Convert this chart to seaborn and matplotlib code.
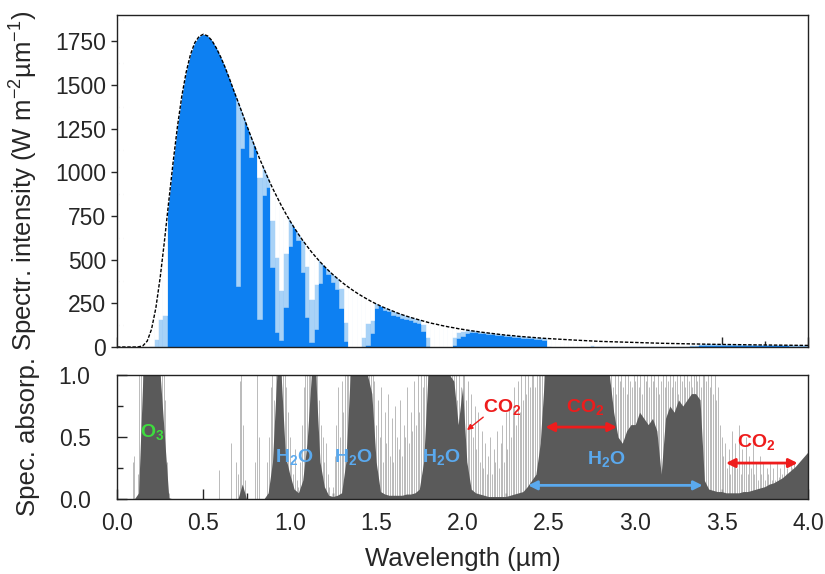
import numpy as np
import pandas as pd
import matplotlib
matplotlib.use("Agg")
import matplotlib.pyplot as plt
import seaborn as sns

# ---------------- data ----------------
# common wavelength grid, 0.025 um step, 0..4 um
wavelength_um = np.round(np.arange(161) * 0.025, 3)

# black-body reference curve (dashed), W m-2 um-1
blackbody = [
    0, 0, 0, 0, 0, 1, 7, 34,
    102, 224, 398, 609, 837, 1059, 1262, 1435,
    1571, 1673, 1741, 1777, 1790, 1780, 1753, 1711,
    1660, 1602, 1538, 1470, 1405, 1338, 1270, 1205,
    1141, 1079, 1021, 964, 910, 861, 812, 767,
    724, 684, 646, 610, 577, 545, 516, 488,
    462, 437, 414, 393, 372, 353, 335, 318,
    302, 287, 273, 259, 247, 235, 224, 214,
    204, 194, 185, 177, 169, 162, 155, 148,
    141, 135, 130, 124, 119, 114, 110, 105,
    101, 97, 93, 90, 86, 83, 80, 77,
    74, 71, 68, 66, 64, 61, 59, 57,
    55, 53, 51, 49.5, 48, 46.5, 45, 43.5,
    42, 40.7, 39.5, 38.2, 37, 35.7, 34.5, 33.2,
    32, 31.2, 30.4, 29.7, 29, 28, 27, 26,
    25.4, 24.7, 24, 23.3, 22.6, 22, 21.4, 20.8,
    20.2, 19.7, 19.1, 18.6, 18.1, 17.6, 17.2, 16.7,
    16.3, 15.9, 15.4, 15.0, 14.6, 14.3, 13.9, 13.6,
    13.2, 12.9, 12.6, 12.3, 12.0, 11.7, 11.5, 11.2,
    10.9, 10.7, 10.4, 10.2, 9.9, 9.7, 9.4, 9.2,
    9.0,
]

# fraction of the black-body curve reached by the solid blue fill
transmittance_solid = [
    0, 0, 0, 0, 0, 0, 0, 0,
    0, 0, 0, 0, 1, 1, 1, 1,
    1, 1, 1, 1, 1, 1, 1, 1,
    1, 1, 1, 1, 0.25, 0.85, 1, 0.9,
    1, 0.15, 0.85, 0.95, 0.5, 0.1, 0.05, 0.3,
    0.8, 1, 0.95, 0.7, 0.3, 0.05, 0.2, 0.75,
    1, 0.95, 0.9, 0.85, 0.6, 0.1, 0, 0,
    0, 0, 0.05, 0.3, 0.9, 1, 0.95, 0.95,
    0.9, 0.9, 0.9, 0.9, 0.9, 0.9, 0.9, 0.6,
    0.05, 0, 0, 0, 0, 0, 0.1, 0.5,
    0.6, 0.85, 0.9, 0.95, 0.95, 0.95, 0.95, 0.95,
    0.95, 0.95, 0.95, 0.95, 0.9, 0.9, 0.9, 0.9,
    0.9, 0.9, 0.9, 0.8, 0, 0, 0, 0,
    0, 0, 0, 0, 0, 0, 0, 0,
    0, 0, 0, 0, 0, 0, 0, 0,
    0, 0, 0, 0, 0, 0, 0, 0,
    0, 0, 0, 0, 0, 0.2, 0.4, 0.6,
    0.85, 0.85, 0.85, 0.85, 0.85, 0.85, 0.85, 0.85,
    0.85, 0.85, 0.85, 0.85, 0.85, 0.85, 0.85, 0.85,
    0.85, 0.85, 0.85, 0.85, 0.85, 0.85, 0.85, 0.85,
    0.85,
]

# fraction reached by the pale-blue (partly absorbed) lines
transmittance_lines = [
    0, 0, 0, 0, 0, 0, 0, 0,
    0.05, 0.2, 0.4, 0.3, 1, 1, 1, 1,
    1, 1, 1, 1, 1, 1, 1, 1,
    1, 1, 1, 1, 1, 1, 1, 1,
    1, 0.9, 1, 1, 0.8, 0.6, 0.4, 0.7,
    1, 1, 1, 1, 0.8, 0.5, 0.7, 1,
    1, 1, 1, 1, 0.9, 0.4, 0, 0,
    0, 0.2, 0.5, 0.6, 1, 1, 1, 1,
    1, 1, 1, 1, 1, 1, 1, 0.9,
    0.4, 0, 0, 0, 0, 0, 0.5, 0.8,
    0.9, 1, 1, 1, 1, 1, 1, 1,
    1, 1, 1, 1, 1, 1, 1, 1,
    1, 1, 1, 1, 0.1, 0.05, 0.05, 0.05,
    0.05, 0.05, 0.05, 0.05, 0.05, 0.05, 0.25, 0.25,
    0.25, 0.25, 0.25, 0.25, 0.25, 0.25, 0.25, 0.25,
    0.25, 0.25, 0.25, 0.25, 0.25, 0.25, 0.25, 0.25,
    0.25, 0.25, 0.25, 0.25, 0.25, 0.5, 0.7, 0.9,
    1, 1, 1, 1, 1, 1, 1, 1,
    1, 1, 1, 1, 1, 1, 1, 1,
    1, 1, 1, 1, 1, 1, 1, 1,
    1,
]

# dark-grey band absorption (bottom panel)
absorption_band = [
    0, 0, 0, 0, 0, 0.05, 1.0, 1.0,
    1.0, 1.0, 1.0, 0.5, 0.01, 0, 0, 0,
    0, 0, 0, 0, 0, 0, 0, 0,
    0, 0, 0, 0, 0, 0.12, 0, 0,
    0, 0, 0, 0.05, 0.3, 1.0, 1.0, 0.35,
    0.2, 0.08, 0.05, 0.15, 0.45, 1.0, 1.0, 0.3,
    0.1, 0.03, 0.02, 0.03, 0.05, 0.3, 1.0, 1.0,
    1.0, 1.0, 1.0, 0.85, 0.3, 0.06, 0.04, 0.03,
    0.03, 0.03, 0.03, 0.04, 0.04, 0.05, 0.08, 0.3,
    1.0, 1.0, 1.0, 1.0, 1.0, 1.0, 0.95, 0.6,
    0.9, 0.3, 0.08, 0.05, 0.04, 0.03, 0.02, 0.02,
    0.02, 0.02, 0.02, 0.03, 0.04, 0.05, 0.06, 0.1,
    0.15, 0.2, 0.45, 1.0, 1.0, 1.0, 1.0, 1.0,
    1.0, 1.0, 1.0, 1.0, 1.0, 1.0, 1.0, 1.0,
    1.0, 1.0, 1.0, 0.7, 0.5, 0.45, 0.55, 0.6,
    0.6, 0.7, 0.65, 0.6, 0.65, 0.55, 0.2, 0.65,
    0.75, 0.7, 0.8, 0.75, 0.8, 0.85, 0.85, 0.8,
    0.15, 0.08, 0.07, 0.06, 0.06, 0.05, 0.05, 0.05,
    0.05, 0.06, 0.06, 0.07, 0.08, 0.09, 0.1, 0.12,
    0.13, 0.15, 0.17, 0.2, 0.23, 0.26, 0.3, 0.34,
    0.38,
]

# light-grey absorption lines, 0.01 um step, 0..4 um
line_wavelength_um = np.round(np.arange(401) * 0.01, 2)
line_absorption = [
    0, 0, 0, 0, 0, 0, 0, 0, 0, 0.3,
    0.35, 0, 0.2, 1.0, 1.0, 1.0, 1.0, 1.0, 1.0, 1.0,
    1.0, 1.0, 1.0, 1.0, 1.0, 1.0, 1.0, 1.0, 0.8, 0.3,
    0.05, 0, 0, 0, 0, 0, 0, 0, 0, 0,
    0, 0, 0, 0, 0, 0, 0, 0, 0, 0,
    0, 0, 0, 0, 0, 0, 0, 0, 0, 0.23,
    0, 0, 0, 0, 0, 0, 0.45, 0, 0, 0.3,
    0.2, 0.95, 1.0, 0.6, 0.15, 0, 0, 0, 0, 0,
    0.3, 1.0, 0.5, 0, 0, 0, 0, 0.3, 0.5, 0.9,
    1.0, 0.8, 1.0, 1.0, 1.0, 1.0, 1.0, 1.0, 0.9, 0.7,
    0.5, 0.3, 0.2, 0.4, 0.15, 0.1, 0.3, 0.6, 0.9, 1.0,
    1.0, 1.0, 1.0, 1.0, 1.0, 1.0, 1.0, 0.8, 0.6, 0.5,
    0.3, 0.45, 0.2, 0.1, 0, 0.1, 0.35, 0.6, 0.9, 0.5,
    0.95, 0.7, 1.0, 1.0, 1.0, 1.0, 1.0, 1.0, 1.0, 1.0,
    1.0, 1.0, 1.0, 1.0, 1.0, 1.0, 1.0, 1.0, 1.0, 0.95,
    0.6, 0.8, 0.5, 0.9, 0.3, 0.7, 0.45, 0.85, 0.35, 0.65,
    0.3, 0.75, 0.5, 0.4, 0.8, 0.35, 0.6, 0.5, 0.9, 0.45,
    0.7, 0.55, 0.95, 0.6, 1.0, 0.7, 1.0, 0.9, 1.0, 1.0,
    1.0, 1.0, 1.0, 1.0, 1.0, 1.0, 1.0, 1.0, 1.0, 1.0,
    1.0, 1.0, 1.0, 1.0, 1.0, 1.0, 1.0, 0.8, 1.0, 0.9,
    1.0, 1.0, 0.8, 0.95, 0.6, 0.85, 0.5, 0.75, 0.4, 0.7,
    0.3, 0.55, 0.25, 0.45, 0.2, 0.35, 0.5, 0.2, 0.4, 0.3,
    0.55, 0.25, 0.45, 0.6, 0.3, 0.7, 0.4, 0.8, 0.5, 0.75,
    0.9, 0.6, 0.95, 0.7, 1.0, 0.8, 1.0, 0.85, 1.0, 0.9,
    1.0, 1.0, 0.9, 1.0, 1.0, 1.0, 1.0, 1.0, 1.0, 1.0,
    1.0, 1.0, 1.0, 1.0, 1.0, 1.0, 1.0, 1.0, 1.0, 1.0,
    1.0, 1.0, 1.0, 1.0, 1.0, 1.0, 1.0, 1.0, 1.0, 1.0,
    1.0, 1.0, 1.0, 1.0, 1.0, 1.0, 1.0, 1.0, 1.0, 1.0,
    1.0, 1.0, 1.0, 1.0, 1.0, 1.0, 1.0, 0.9, 1.0, 0.85,
    1.0, 0.95, 1.0, 0.9, 1.0, 0.85, 1.0, 0.95, 0.9, 1.0,
    0.95, 1.0, 0.9, 1.0, 0.85, 1.0, 0.95, 1.0, 0.9, 1.0,
    0.95, 1.0, 0.9, 1.0, 0.85, 0.95, 1.0, 0.9, 1.0, 0.95,
    1.0, 0.9, 1.0, 0.95, 1.0, 0.85, 1.0, 0.95, 1.0, 0.9,
    1.0, 0.95, 1.0, 0.9, 1.0, 1.0, 0.95, 1.0, 0.9, 1.0,
    1.0, 0.95, 1.0, 0.9, 1.0, 0.85, 1.0, 0.8, 0.9, 0.6,
    0.5, 0.35, 0.45, 0.25, 0.4, 0.2, 0.55, 0.3, 0.45, 0.25,
    0.6, 0.2, 0.4, 0.3, 0.5, 0.2, 0.35, 0.25, 0.45, 0.2,
    0.3, 0.15, 0.35, 0.2, 0.3, 0.15, 0.25, 0.2, 0.3, 0.15,
    0.25, 0.15, 0.3, 0.18, 0.25, 0.2, 0.28, 0.2, 0.25, 0.22,
    0.3, 0.25, 0.3, 0, 0, 0, 0, 0, 0, 0,
    0,
]

# annotation labels
h2o_labels = [(1.025, 0.34), (1.37, 0.34), (1.875, 0.34), (2.835, 0.32)]
co2_labels = [(2.23, 0.74), (2.71, 0.74), (3.70, 0.46)]

# ---------------- style ----------------
sns.set_theme(style="ticks")
plt.rcParams["font.family"] = ["Liberation Sans", "DejaVu Sans"]
plt.rcParams["mathtext.fontset"] = "custom"
plt.rcParams["mathtext.rm"] = "Liberation Sans"
plt.rcParams["mathtext.it"] = "Liberation Sans:italic"
plt.rcParams["mathtext.bf"] = "Liberation Sans:bold"

BLUE = "#0d80f2"
LIGHT_BLUE = "#a8d2f7"
DARK_GREY = "#5a5a5a"
LINE_GREY = "#b0b0b0"
RED = "#ee1c1c"
TXT_BLUE = "#5aa9ee"
GREEN = "#3edc3e"

df = pd.DataFrame({
    "wavelength": wavelength_um,
    "blackbody": blackbody,
    "t_solid": transmittance_solid,
    "t_lines": transmittance_lines,
    "band": absorption_band,
})
df["solid"] = df["blackbody"] * df["t_solid"]
df["pale"] = df["blackbody"] * df["t_lines"]
BIN = 0.025
YTOP = 1900

fig = plt.figure(figsize=(8.25, 5.74), dpi=100)
W, H = 825, 574
ax1 = fig.add_axes([117 / W, 1 - 347 / H, 691 / W, 332 / H])
ax2 = fig.add_axes([117 / W, 1 - 499 / H, 691 / W, 124 / H])

# ---------------- top panel ----------------
base = ax1.fill_between(df["wavelength"], 0, df["blackbody"], color=BLUE,
                        lw=0, zorder=1)
# partly absorbed (pale) part
pale = df[df["t_solid"] < 1]
bars = ax1.bar(pale["wavelength"], YTOP - pale["solid"], bottom=pale["solid"],
               width=BIN, color=LIGHT_BLUE, edgecolor=LIGHT_BLUE, lw=0.4,
               zorder=1.1)
clip_path = base.get_paths()[0]
for b in bars:
    b.set_clip_path(clip_path, ax1.transData)
# fully absorbed (white) part
gone = df[df["t_lines"] < 1]
ax1.bar(gone["wavelength"], YTOP - gone["pale"], bottom=gone["pale"],
        width=BIN, color="white", edgecolor="white", lw=0.4, zorder=1.2)
sns.lineplot(data=df, x="wavelength", y="blackbody", ax=ax1, color="black",
             lw=1.0, linestyle=(0, (2.5, 1.2)), legend=False, zorder=3)
ax1.set_xlim(0, 4)
ax1.set_ylim(0, YTOP)
ax1.set_yticks(np.arange(0, 1751, 250))
ax1.set_yticks(np.arange(125, 1900, 250), minor=True)
ax1.set_xticks(np.arange(0, 4.01, 0.5))
ax1.set_xticks(np.arange(0.25, 4, 0.5), minor=True)
ax1.tick_params(axis="x", which="both", direction="in", labelbottom=False)
ax1.tick_params(axis="x", which="major", length=7, width=1)
ax1.tick_params(axis="x", which="minor", length=4, width=1)
ax1.tick_params(axis="y", which="major", direction="out", length=4, width=1,
                labelsize=16.5, pad=4)
ax1.tick_params(axis="y", which="minor", direction="in", length=4, width=1)
ax1.set_xlabel("")
ax1.set_ylabel("Spectr. intensity (W m$^{-2}$µm$^{-1}$)", fontsize=18.5)
ax1.yaxis.set_label_coords(-0.112, 0.5)

# ---------------- bottom panel ----------------
ax2.vlines(line_wavelength_um, 0, line_absorption, color=LINE_GREY, lw=0.6,
           zorder=1)
ax2.fill_between(df["wavelength"], 0, df["band"], color=DARK_GREY, lw=0,
                 zorder=1.5)
ax2.set_xlim(0, 4)
ax2.set_ylim(0, 1.0)
ax2.set_yticks([0.0, 0.5, 1.0])
ax2.set_yticks([0.25, 0.75], minor=True)
ax2.set_yticklabels(["0.0", "0.5", "1.0"])
ax2.set_xticks(np.arange(0, 4.01, 0.5))
ax2.set_xticks(np.arange(0.25, 4, 0.5), minor=True)
ax2.set_xticklabels([f"{v:.1f}" for v in np.arange(0, 4.01, 0.5)])
ax2.tick_params(axis="both", which="both", direction="in", width=1)
ax2.tick_params(axis="both", which="major", length=7)
ax2.tick_params(axis="both", which="minor", length=4)
ax2.tick_params(axis="x", which="major", labelsize=16.5, pad=9)
ax2.tick_params(axis="y", which="major", labelsize=16.5, pad=19)
ax2.set_xlabel("Wavelength (µm)", fontsize=18.5)
ax2.xaxis.set_label_coords(0.5, -0.39)
ax2.xaxis.label.set_va("top")
ax2.set_ylabel("Spec. absorp.", fontsize=18.5)
ax2.yaxis.set_label_coords(-0.112, 0.5)

for ax in (ax1, ax2):
    for s in ax.spines.values():
        s.set_visible(True)
        s.set_linewidth(1.0)
        s.set_color("#222222")
        s.set_zorder(4)

# annotations
ax2.text(0.135, 0.54, r"$\mathbf{O_3}$", color=GREEN, fontsize=14,
         ha="left", va="center", zorder=5)
for x, y in h2o_labels:
    ax2.text(x, y, r"$\mathbf{H_2O}$", color=TXT_BLUE, fontsize=14,
             ha="center", va="center", zorder=5)
for x, y in co2_labels:
    ax2.text(x, y, r"$\mathbf{CO_2}$", color=RED, fontsize=14,
             ha="center", va="center", zorder=5)

arrow_kw = dict(shrinkA=0, shrinkB=0)
ax2.annotate("", xy=(2.026, 0.556), xytext=(2.12, 0.66), zorder=5,
             arrowprops=dict(arrowstyle="-|>", color=RED, lw=1.0,
                             mutation_scale=8, **arrow_kw))
ax2.annotate("", xy=(2.48, 0.58), xytext=(2.894, 0.58), zorder=5,
             arrowprops=dict(arrowstyle="<|-|>", color=RED, lw=2.0,
                             mutation_scale=13, **arrow_kw))
ax2.annotate("", xy=(3.525, 0.29), xytext=(3.94, 0.29), zorder=5,
             arrowprops=dict(arrowstyle="<|-|>", color=RED, lw=2.0,
                             mutation_scale=13, **arrow_kw))
ax2.annotate("", xy=(2.38, 0.11), xytext=(3.39, 0.11), zorder=5,
             arrowprops=dict(arrowstyle="<|-|>", color=TXT_BLUE, lw=2.0,
                             mutation_scale=13, **arrow_kw))

fig.savefig("out.png", dpi=100, facecolor="white")
